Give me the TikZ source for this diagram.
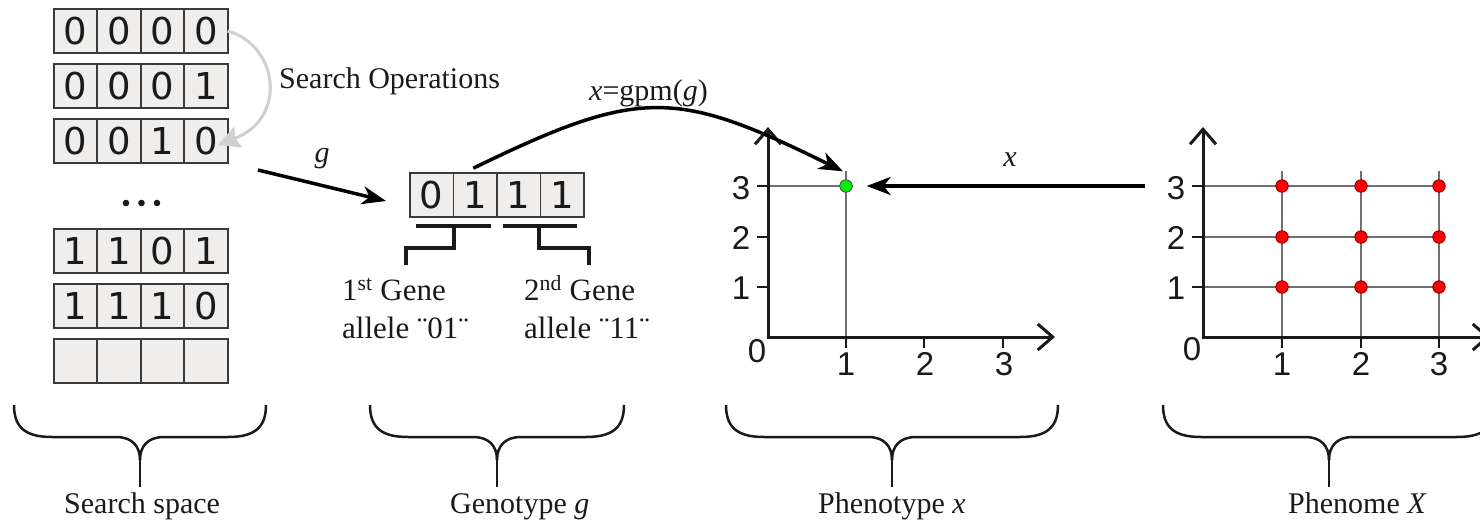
\documentclass[tikz,border=0pt]{standalone}
\usepackage{fontspec}
\setmainfont{Liberation Serif}
\newfontfamily\bitfont{DejaVu Sans}
\newfontfamily\axfont{Liberation Sans}
\usetikzlibrary{arrows.meta,calc}
\definecolor{cellfill}{HTML}{EFEEEC}
\definecolor{cellline}{HTML}{3A3A3A}
\definecolor{ink}{HTML}{1A1A1A}
\definecolor{gridc}{HTML}{707070}
\definecolor{opgray}{HTML}{D0D0D0}
\definecolor{ptgreen}{HTML}{00F000}
\definecolor{ptred}{HTML}{FF0000}
\definecolor{reddark}{HTML}{800000}
\begin{document}
\begin{tikzpicture}[x=1pt,y=-1pt,
 bit/.style={draw=cellline, line width=1.8pt, fill=cellfill, minimum width=43.5pt, minimum height=43.5pt, inner sep=0pt, outer sep=0pt, font=\bitfont\fontsize{37}{37}\selectfont, text=ink},
 lbl/.style={font=\fontsize{30}{36}\selectfont, inner sep=0pt, text=ink},
 genelbl/.style={font=\fontsize{31}{38}\selectfont, inner sep=0pt, text=ink},
 ax/.style={font=\axfont\fontsize{33}{36}\selectfont, inner sep=0pt, text=ink},
 axisline/.style={line width=3pt, draw=ink, -{Straight Barb[length=15pt,width=26pt,line width=3pt]}},
 tickline/.style={line width=2.5pt, draw=ink},
 gridline/.style={line width=1.5pt, draw=gridc},
 blackarrow/.style={line width=3.5pt, draw=black, -{Stealth[length=24pt,width=18pt,inset=7pt]}},
 bracket/.style={line width=4pt, draw=ink},
 brace/.style={line width=2.5pt, draw=ink},
 gdot/.style={circle, fill=ptgreen, draw=ink!80, line width=0.8pt, minimum size=12.5pt, inner sep=0pt},
 rdot/.style={circle, fill=ptred, draw=reddark, line width=0.8pt, minimum size=12.5pt, inner sep=0pt},
]
\useasboundingbox (0,0) rectangle (1480,524);
\clip (0,0) rectangle (1480,524);

% ---------- search space ----------
\foreach \r/\y/\a/\b/\c/\d in {1/31/0/0/0/0, 2/86/0/0/0/1, 3/141/0/0/1/0, 4/251/1/1/0/1, 5/306/1/1/1/0, 6/361/{}/{}/{}/{}}{
  \node[bit] (s\r c1) at (75.4,\y) {\a};
  \node[bit] (s\r c2) at (118.9,\y) {\b};
  \node[bit] (s\r c3) at (162.4,\y) {\c};
  \node[bit] (s\r c4) at (205.9,\y) {\d};
}
\fill[ink] (126,203) circle (3.3) (141.5,203) circle (3.3) (157,203) circle (3.3);

\draw[line width=3pt, opgray, -{Stealth[length=22pt,width=22pt,inset=3pt]}]
  (s1c4.east) .. controls (278,45) and (288,118) .. ($(s3c4.east)+(-10,4)$);
\node[lbl, anchor=base west] (ops) at (279,89) {Search Operations};

% ---------- genotype ----------
\node[bit] (g1) at (431.75,195) {0};
\node[bit] (g2) at (475.25,195) {1};
\node[bit] (g3) at (518.75,195) {1};
\node[bit] (g4) at (562.25,195) {1};

\coordinate (gstart) at (258,170);
\draw[blackarrow] (gstart) -- ($(g1.west)+(-24,6)$);
\node[lbl, anchor=base] (glab) at (322,162) {\textit{g}};

\draw[bracket] (416,226) -- (491,226);
\draw[bracket] (454,226) -- (454,248) -- (406,248) -- (406,265);
\draw[bracket] (503,226) -- (577,226);
\draw[bracket] (539,226) -- (539,248) -- (589,248) -- (589,265);

\node[genelbl, anchor=base west] (gene1a) at (342,300) {1\textsuperscript{st} Gene};
\node[genelbl, anchor=base west] (gene1b) at (342,338) {allele ¨01¨};
\node[genelbl, anchor=base west] (gene2a) at (524,300) {2\textsuperscript{nd} Gene};
\node[genelbl, anchor=base west] (gene2b) at (524,338) {allele ¨11¨};

% ---------- phenotype ----------
\draw[gridline] (768,186) -- (853,186);
\draw[gridline] (846,171) -- (846,337);
\foreach \yy in {186,237,287} \draw[tickline] (757,\yy) -- (768,\yy);
\foreach \xx in {846,924,1003} \draw[tickline] (\xx,337) -- (\xx,348);
\draw[axisline] (768,338.5) -- (768,127);
\draw[axisline] (766.5,337) -- (1055,337);
\node[ax] (py3) at (741,188) {3};
\node[ax] (py2) at (741,238) {2};
\node[ax] (py1) at (741,288) {1};
\node[ax] (p0) at (757,351) {0};
\node[ax] (px1) at (846,364) {1};
\node[ax] (px2) at (925,364) {2};
\node[ax] (px3) at (1004,364) {3};
\node[gdot] (pt) at (846,186) {};

\coordinate (xsrc) at (1145,186);
\draw[blackarrow, shorten >=14pt] (xsrc) -- (pt);
\node[lbl, anchor=base] (xlab) at (1010,167) {\textit{x}};

\draw[blackarrow] ($(g2.north)+(-2,-5)$) .. controls (640,87) and (676,89) .. ($(pt.north)+(-3,-8)$);
\node[lbl, anchor=base west] (gpm) at (589,101) {\textit{x}=gpm(\textit{g})};

% ---------- phenome ----------
\foreach \yy in {186,237,287} \draw[gridline] (1203,\yy) -- (1439,\yy);
\foreach \xx in {1282,1361,1439} \draw[gridline] (\xx,171) -- (\xx,337);
\foreach \yy in {186,237,287} \draw[tickline] (1192,\yy) -- (1203,\yy);
\foreach \xx in {1282,1361,1439} \draw[tickline] (\xx,337) -- (\xx,348);
\draw[axisline] (1203,338.5) -- (1203,127);
\draw[axisline] (1201.5,337) -- (1490,337);
\node[ax] (qy3) at (1176,188) {3};
\node[ax] (qy2) at (1176,238) {2};
\node[ax] (qy1) at (1176,288) {1};
\node[ax] (q0) at (1192,349) {0};
\node[ax] (qx1) at (1282,364) {1};
\node[ax] (qx2) at (1361,364) {2};
\node[ax] (qx3) at (1439,364) {3};
\foreach \xx [count=\i] in {1282,1361,1439}
  \foreach \yy [count=\j] in {186,237,287}
    \node[rdot] (r\i\j) at (\xx,\yy) {};

% ---------- braces ----------
\foreach \cx/\w in {140/126, 497/127, 892/166, 1329/166}{
  \draw[brace] (\cx-\w,405) .. controls (\cx-\w,428) and (\cx-\w+12,437) .. (\cx-\w+38,437)
     -- (\cx-24,437) .. controls (\cx-8,437) and (\cx,446) .. (\cx,460);
  \draw[brace] (\cx+\w,405) .. controls (\cx+\w,428) and (\cx+\w-12,437) .. (\cx+\w-38,437)
     -- (\cx+24,437) .. controls (\cx+8,437) and (\cx,446) .. (\cx,460);
  \draw[line width=1.3pt, ink] (\cx,455) -- (\cx,487);
}
\node[lbl, anchor=base west] (lss) at (64,513) {Search space};
\node[lbl, anchor=base west] (lgt) at (450,513) {Genotype \textit{g}};
\node[lbl, anchor=base west] (lpt) at (818,513) {Phenotype \textit{x}};
\node[lbl, anchor=base west] (lpm) at (1288,513) {Phenome \textit{X}};
\end{tikzpicture}
\end{document}
